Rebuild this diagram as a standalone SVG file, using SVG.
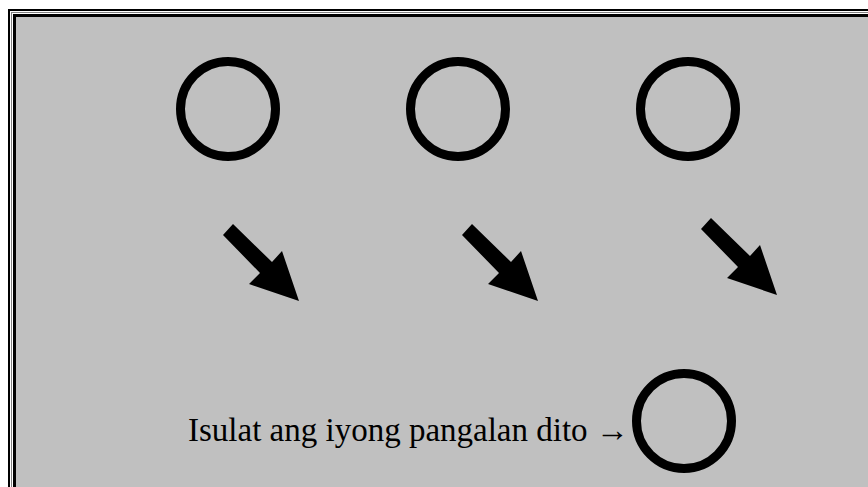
<svg xmlns="http://www.w3.org/2000/svg" width="868" height="487" viewBox="0 0 868 487">
<style>
.c{fill:none;stroke:#000;stroke-width:9}
.t{font-family:"Liberation Serif","Times New Roman",serif;font-size:33px;fill:#000}
</style>
<defs>
<polygon id="arr" points="223,235 233,224 272,262 282,251 299,301 249,284 260,273" fill="#000"/>
</defs>
<rect x="0" y="0" width="868" height="487" fill="#fff"/>
<g id="frame">
<rect x="9" y="10" width="880" height="500" fill="none" stroke="#000" stroke-width="2"/>
<rect x="11.5" y="12.5" width="880" height="500" fill="none" stroke="#808080" stroke-width="1"/>
<rect x="14.5" y="15.5" width="880" height="500" fill="#C0C0C0" stroke="#000" stroke-width="3"/>
</g>
<g id="circle1"><circle class="c" cx="228" cy="109" r="47.5"/></g>
<g id="circle2"><circle class="c" cx="458" cy="109" r="47.5"/></g>
<g id="circle3"><circle class="c" cx="688" cy="109" r="47.5"/></g>
<g id="circle4"><circle class="c" cx="684" cy="421" r="47.5"/></g>
<g id="connectors">
<use href="#arr"/>
<use href="#arr" x="239"/>
<use href="#arr" x="478" y="-6"/>
</g>
<g id="label"><text class="t" x="188" y="441">Isulat ang iyong pangalan dito →</text></g>
</svg>
